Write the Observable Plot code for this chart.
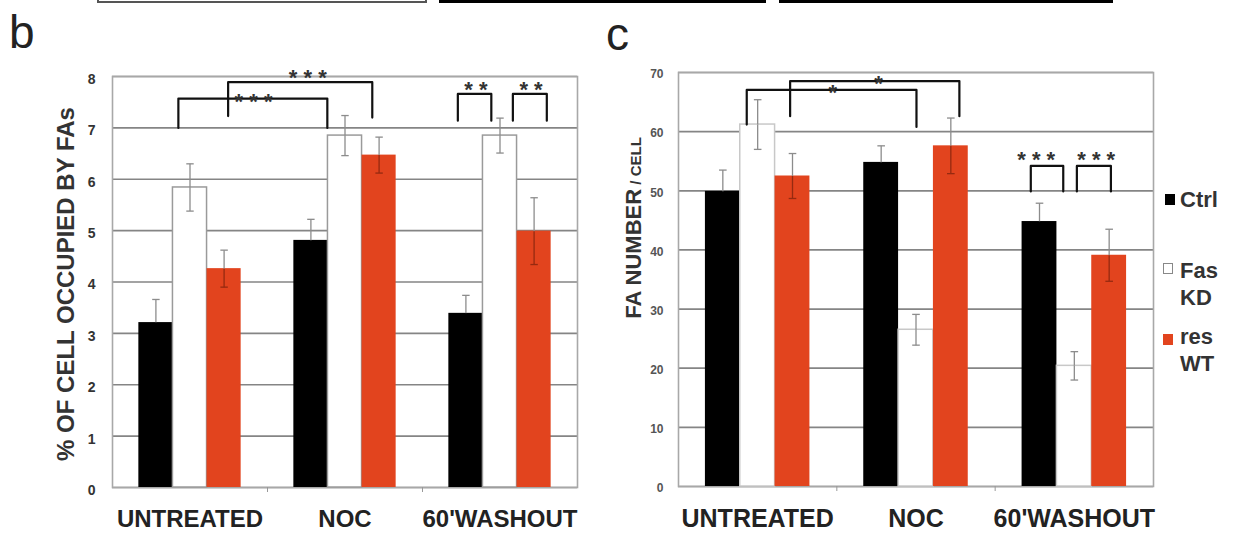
<!DOCTYPE html>
<html><head><meta charset="utf-8">
<script src="https://cdn.jsdelivr.net/npm/d3@7"></script>
<script src="https://cdn.jsdelivr.net/npm/@observablehq/plot@0.6"></script>
<style>
html,body{margin:0;padding:0;background:#fff;}
#fig{position:relative;width:1237px;height:534px;overflow:hidden;background:#fff;font-family:"Liberation Sans",Arial,sans-serif;}
.topbox{position:absolute;top:-20px;height:23px;box-sizing:border-box;}
.letter{position:absolute;font-size:46px;line-height:46px;color:#222;}
.ytitle{position:absolute;transform:translate(-50%,-50%) rotate(-90deg);white-space:nowrap;font-weight:bold;color:#333;line-height:1;}
.leg{position:absolute;font-weight:bold;font-size:22px;line-height:24px;color:#333;white-space:nowrap;}
.sw{position:absolute;box-sizing:border-box;}
#plotB,#plotC{position:absolute;top:0;}
#plotB{left:0;} #plotC{left:595px;}
svg g[aria-label="y-axis tick label"] text, svg g[aria-label="x-axis tick label"] text{font-weight:bold;}
</style></head><body>
<div id="fig">
  <div class="topbox" style="left:97px;width:330px;border:2px solid #555;"></div>
  <div class="topbox" style="left:439px;width:327px;border:3px solid #000;"></div>
  <div class="topbox" style="left:779px;width:334px;border:3px solid #000;"></div>
  <div class="letter" style="left:9px;top:9px;">b</div>
  <div class="letter" style="left:606px;top:11px;">c</div>
  <div id="plotB"></div>
  <div id="plotC"></div>
  <div class="ytitle" style="left:66px;top:284px;font-size:24px;">% OF CELL OCCUPIED BY FAs</div>
  <div class="ytitle" style="left:634px;top:228px;font-size:22px;">FA NUMBER<span style="font-size:15px;"> / CELL</span></div>
  <div id="legend"></div>
</div>
<script>
// ---- categories & series ----
const groups = ["UNTREATED", "NOC", "60'WASHOUT"];
const seriesNames = ["Ctrl", "Fas KD", "res WT"];
const seriesColors = ["#000000", "#ffffff", "#e2441e"];

// ---- panel b: % of cell occupied by FAs (mean, s.e.) ----
const areaCtrl = [3.21, 4.81, 3.39];
const areaCtrlErr = [0.45, 0.41, 0.35];
const areaFas = [5.84, 6.85, 6.85];
const areaFasErr = [0.46, 0.39, 0.34];
const areaRes = [4.26, 6.47, 4.99];
const areaResErr = [0.36, 0.35, 0.65];
const areaTicks = [0, 1, 2, 3, 4, 5, 6, 7, 8];

// ---- panel c: FA number / cell (mean, s.e.) ----
const numCtrl = [49.9, 54.8, 44.8];
const numCtrlErr = [3.6, 2.8, 3.1];
const numFas = [61.2, 26.5, 20.4];
const numFasErr = [4.2, 2.6, 2.4];
const numRes = [52.5, 57.6, 39.1];
const numResErr = [3.8, 4.7, 4.4];
const numTicks = [0, 10, 20, 30, 40, 50, 60, 70];

// ---- significance brackets (x in group units, y in data units) ----
const bracketsB = [
  {x1: -0.075, x2: 0.886, top: 7.57, foot1: 7.0, foot2: 7.0},
  {x1: 0.246, x2: 1.176, top: 7.89, foot1: 7.23, foot2: 7.2},
  {x1: 1.728, x2: 1.944, top: 7.66, foot1: 7.14, foot2: 7.14},
  {x1: 2.083, x2: 2.302, top: 7.66, foot1: 7.14, foot2: 7.14}
];
const starsB = [
  {x: 0.41, y: 7.62, text: "* * *"},
  {x: 0.76, y: 8.08, text: "* * *"},
  {x: 1.845, y: 7.86, text: "* *"},
  {x: 2.2, y: 7.86, text: "* *"}
];
const bracketsC = [
  {x1: -0.069, x2: 1.003, top: 67.05, foot1: 61.2, foot2: 60.8},
  {x1: 0.205, x2: 1.274, top: 68.55, foot1: 62.6, foot2: 62.6},
  {x1: 1.725, x2: 1.930, top: 54.2, foot1: 49.9, foot2: 49.9},
  {x1: 2.016, x2: 2.231, top: 54.2, foot1: 49.9, foot2: 49.9}
];
const starsC = [
  {x: 0.474, y: 67.6, text: "*"},
  {x: 0.764, y: 69.1, text: "*"},
  {x: 1.759, y: 56.2, text: "* * *"},
  {x: 2.138, y: 56.2, text: "* * *"}
];

// ---- layout constants ----
const seriesOffset = [-0.22, 0, 0.22];
const barW = 0.22;
const capW = 0.024;
const errGrey = "#8c8c8c";
const lowerErrColor = ["#000000", "#8c8c8c", "#962a10"];

function rowsOf(meansList, errsList) {
  const rows = [];
  meansList.forEach((means, s) => {
    means.forEach((v, g) => {
      rows.push({g, s, group: groups[g], series: seriesNames[s], value: v, err: errsList[s][g],
                 xc: g + seriesOffset[s]});
    });
  });
  return rows;
}
function bracketPoints(brs) {
  const pts = [];
  brs.forEach((b, i) => {
    pts.push({id: i, x: b.x1, y: b.foot1});
    pts.push({id: i, x: b.x1, y: b.top});
    pts.push({id: i, x: b.x2, y: b.top});
    pts.push({id: i, x: b.x2, y: b.foot2});
  });
  return pts;
}

function panel(o) {
  const rows = o.rows;
  return Plot.plot({
    width: o.width, height: 534,
    marginLeft: o.ml, marginRight: o.mr, marginTop: o.mt, marginBottom: o.mb,
    style: {fontFamily: '"Liberation Sans", Arial, sans-serif', background: "transparent", overflow: "visible"},
    x: {domain: [-0.5, 2.5], axis: null},
    y: {domain: [0, o.ticks[o.ticks.length - 1]], axis: null},
    color: {type: "identity"},
    marks: [
      Plot.gridY(o.ticks, {stroke: "#858585", strokeOpacity: 1, strokeWidth: 1.7}),
      Plot.frame({stroke: "#a8a8a8", strokeWidth: 1.6}),
      Plot.rectY(rows, {
        x1: d => d.xc - barW / 2, x2: d => d.xc + barW / 2, y1: 0, y2: "value",
        fill: d => seriesColors[d.s],
        stroke: d => d.s === 1 ? o.fasStroke : "none", strokeWidth: 1.5
      }),
      // error bars: upper half
      Plot.link(rows, {x1: "xc", x2: "xc", y1: "value", y2: d => d.value + d.err, stroke: errGrey, strokeWidth: 1.3}),
      Plot.link(rows, {x1: d => d.xc - capW, x2: d => d.xc + capW, y1: d => d.value + d.err, y2: d => d.value + d.err, stroke: errGrey, strokeWidth: 1.3}),
      // lower half (drawn inside the bar)
      Plot.link(rows, {x1: "xc", x2: "xc", y1: d => d.value - d.err, y2: "value", stroke: d => lowerErrColor[d.s], strokeWidth: 1.3}),
      Plot.link(rows, {x1: d => d.xc - capW, x2: d => d.xc + capW, y1: d => d.value - d.err, y2: d => d.value - d.err, stroke: d => lowerErrColor[d.s], strokeWidth: 1.3}),
      Plot.line(bracketPoints(o.brackets), {x: "x", y: "y", z: "id", stroke: "#111", strokeWidth: 2.2, curve: "linear"}),
      Plot.text(o.stars, {x: "x", y: "y", text: "text", fontSize: 22, fontWeight: "bold", fill: "#333", dy: 6}),
      Plot.axisY({ticks: o.ticks, tickSize: 0, tickPadding: o.tickPad, fontSize: o.tickFont, fontWeight: "bold", fill: o.tickColor, dy: o.tickDy, label: null}),
      Plot.axisX({ticks: [0, 1, 2], tickFormat: i => groups[i], tickSize: 0, tickPadding: o.labPad, fontSize: o.labFont, fontWeight: "bold", fill: "#222", label: null}),
      Plot.axisX({ticks: [0.5, 1.5], tickSize: 5, tickFormat: () => "", stroke: "#999", label: null})
    ]
  });
}

const plotB = panel({
  width: 595, ml: 112, mr: 18, mt: 76, mb: 47,
  rows: rowsOf([areaCtrl, areaFas, areaRes], [areaCtrlErr, areaFasErr, areaResErr]),
  ticks: areaTicks, brackets: bracketsB, stars: starsB, fasStroke: "#9a9a9a",
  tickPad: 17, tickFont: 14, tickColor: "#333", tickDy: 3, labPad: 22, labFont: 24
});
document.getElementById("plotB").appendChild(plotB);

const plotC = panel({
  width: 642, ml: 83, mr: 84, mt: 72, mb: 48,
  rows: rowsOf([numCtrl, numFas, numRes], [numCtrlErr, numFasErr, numResErr]),
  ticks: numTicks, brackets: bracketsC, stars: starsC, fasStroke: "#c8c8c8",
  tickPad: 15, tickFont: 12, tickColor: "#555", tickDy: 2, labPad: 23, labFont: 25
});
document.getElementById("plotC").appendChild(plotC);

// ---- legend (HTML) ----
const legendLines = [["Ctrl"], ["Fas", "KD"], ["res", "WT"]];
const legendSwatchTop = [194, 263, 334];
const legendTextTop = [[188], [259, 286], [325, 352]];
const legend = document.getElementById("legend");
seriesNames.forEach((name, s) => {
  const sw = document.createElement("div");
  sw.className = "sw";
  sw.style.left = (s === 0 ? 1165 : 1163) + "px";
  sw.style.top = legendSwatchTop[s] + "px";
  sw.style.width = "10px"; sw.style.height = "11px";
  sw.style.background = seriesColors[s];
  if (s === 1) sw.style.border = "1px solid #888";
  legend.appendChild(sw);
  legendLines[s].forEach((t, k) => {
    const el = document.createElement("div");
    el.className = "leg";
    el.textContent = t;
    el.style.left = "1180px";
    el.style.top = legendTextTop[s][k] + "px";
    legend.appendChild(el);
  });
});
</script>
</body></html>
